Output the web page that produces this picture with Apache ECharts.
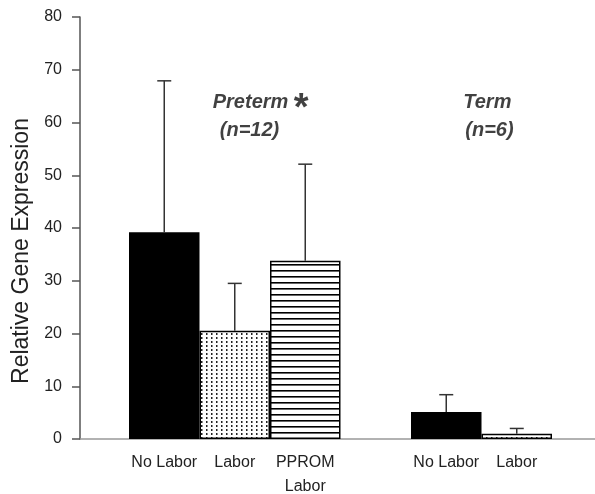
<!DOCTYPE html>
<html>
<head>
<meta charset="utf-8">
<script src="https://cdn.jsdelivr.net/npm/echarts@6/dist/echarts.min.js"></script>
<style>
html,body{margin:0;padding:0;background:#fff;}
#chart{width:595px;height:494px;}
</style>
</head>
<body>
<div id="chart"></div>
<script>
// ---- data ----
var categories = ['No Labor', 'Labor', 'PPROM\nLabor', '', 'No Labor', 'Labor'];
var means = [39.2, 20.5, 33.8, null, 5.1, 1.0];
var upperErrors = [67.9, 29.5, 52.1, null, 8.4, 2.0];
var fills = ['solid', 'dots', 'stripes', null, 'solid', 'dots'];
var yTicks = [0, 10, 20, 30, 40, 50, 60, 70, 80];
var groupTitles = ['Preterm', 'Term'];
var groupCounts = ['(n=12)', '(n=6)'];
var groupAnchor = [1, 4]; // category index each group's annotation is anchored to

function makePattern(kind) {
  var c = document.createElement('canvas');
  if (kind === 'dots') {
    c.width = 5; c.height = 4;
    var g = c.getContext('2d');
    g.fillStyle = '#fff'; g.fillRect(0, 0, 5, 4);
    g.fillStyle = '#222'; g.fillRect(1, 1, 1.5, 2);
  } else {
    c.width = 4; c.height = 6;
    var g2 = c.getContext('2d');
    g2.fillStyle = '#fff'; g2.fillRect(0, 0, 4, 6);
    g2.fillStyle = '#000'; g2.fillRect(0, 0, 4, 1.6);
  }
  return { image: c, repeat: 'repeat' };
}

var barData = means.map(function (v, i) {
  if (v === null) return '-';
  var color = fills[i] === 'solid' ? '#000' : makePattern(fills[i]);
  return { value: v, itemStyle: { color: color, borderColor: '#000', borderWidth: 1.5 } };
});
var errData = [];
means.forEach(function (v, i) { if (v !== null) errData.push([i, v, upperErrors[i]]); });

var chart = echarts.init(document.getElementById('chart'), null, { renderer: 'canvas' });
var font = 'Liberation Sans, Arial, sans-serif';
var annot = { fontSize: 20, fontWeight: 'bold', fontStyle: 'italic', fontFamily: font, color: '#111' };
function annLabel(text, offset, extra) {
  var l = { show: true, formatter: text, position: [0, 0], align: 'left', verticalAlign: 'middle', offset: offset };
  for (var k in annot) l[k] = annot[k];
  if (extra) for (var k2 in extra) l[k2] = extra[k2];
  return l;
}
chart.setOption({
  animation: false,
  grid: [
    { left: 129, right: 43, top: 17, bottom: 55, outerBoundsMode: 'none', containLabel: false },
    { left: 80, right: 0, top: 17, bottom: 55, outerBoundsMode: 'none', containLabel: false }
  ],
  xAxis: [
    {
      type: 'category', gridIndex: 0, data: categories, boundaryGap: true,
      axisLine: { show: false }, axisTick: { show: false },
      axisLabel: { color: '#222', fontSize: 16, fontFamily: font, margin: 12, lineHeight: 24, interval: 0 }
    },
    {
      type: 'value', gridIndex: 1, min: 0, max: 1,
      axisLine: { show: true, lineStyle: { color: '#999', width: 1.5 } },
      axisTick: { show: false }, axisLabel: { show: false }, splitLine: { show: false }
    }
  ],
  yAxis: [
    {
      type: 'value', gridIndex: 0, min: yTicks[0], max: yTicks[yTicks.length - 1], interval: 10,
      offset: 49,
      axisLine: { show: true, lineStyle: { color: '#555', width: 1.5 } },
      axisTick: { show: true, length: 8, lineStyle: { color: '#555', width: 1.5 } },
      axisLabel: { color: '#222', fontSize: 16, fontFamily: font, margin: 18 },
      splitLine: { show: false }
    },
    { type: 'value', gridIndex: 1, min: 0, max: 1, show: false }
  ],
  graphic: [
    {
      type: 'text', x: 22, y: 251, rotation: Math.PI / 2,
      style: { text: 'Relative Gene Expression', font: '23px ' + font, fill: '#222', x: 0, y: 0, textAlign: 'center', textVerticalAlign: 'middle' }
    }
  ],
  series: [
    {
      type: 'bar', xAxisIndex: 0, yAxisIndex: 0, data: barData,
      barWidth: '100%', barCategoryGap: '0%', z: 2
    },
    {
      type: 'custom', xAxisIndex: 0, yAxisIndex: 0, data: errData, z: 3,
      renderItem: function (params, api) {
        var top = api.coord([api.value(0), api.value(2)]);
        var base = api.coord([api.value(0), api.value(1)]);
        var cap = 7;
        var st = { stroke: '#333', lineWidth: 1.5 };
        return {
          type: 'group', children: [
            { type: 'line', shape: { x1: top[0], y1: top[1], x2: base[0], y2: base[1] }, style: st },
            { type: 'line', shape: { x1: top[0] - cap, y1: top[1], x2: top[0] + cap, y2: top[1] }, style: st }
          ]
        };
      }
    },
    {
      type: 'scatter', xAxisIndex: 0, yAxisIndex: 0, symbolSize: 0, silent: true,
      data: [
        { value: [groupAnchor[0], 63.7], label: annLabel(groupTitles[0], [-22, 0]) },
        { value: [groupAnchor[0], 58.4], label: annLabel(groupCounts[0], [-15, 0]) },
        { value: [groupAnchor[0], 63.7], label: annLabel('*', [59, 7], { fontSize: 38, fontStyle: 'normal' }) },
        { value: [groupAnchor[1], 63.7], label: annLabel(groupTitles[1], [17, 0]) },
        { value: [groupAnchor[1], 58.4], label: annLabel(groupCounts[1], [19, 0]) }
      ]
    }
  ]
});
</script>
</body>
</html>
